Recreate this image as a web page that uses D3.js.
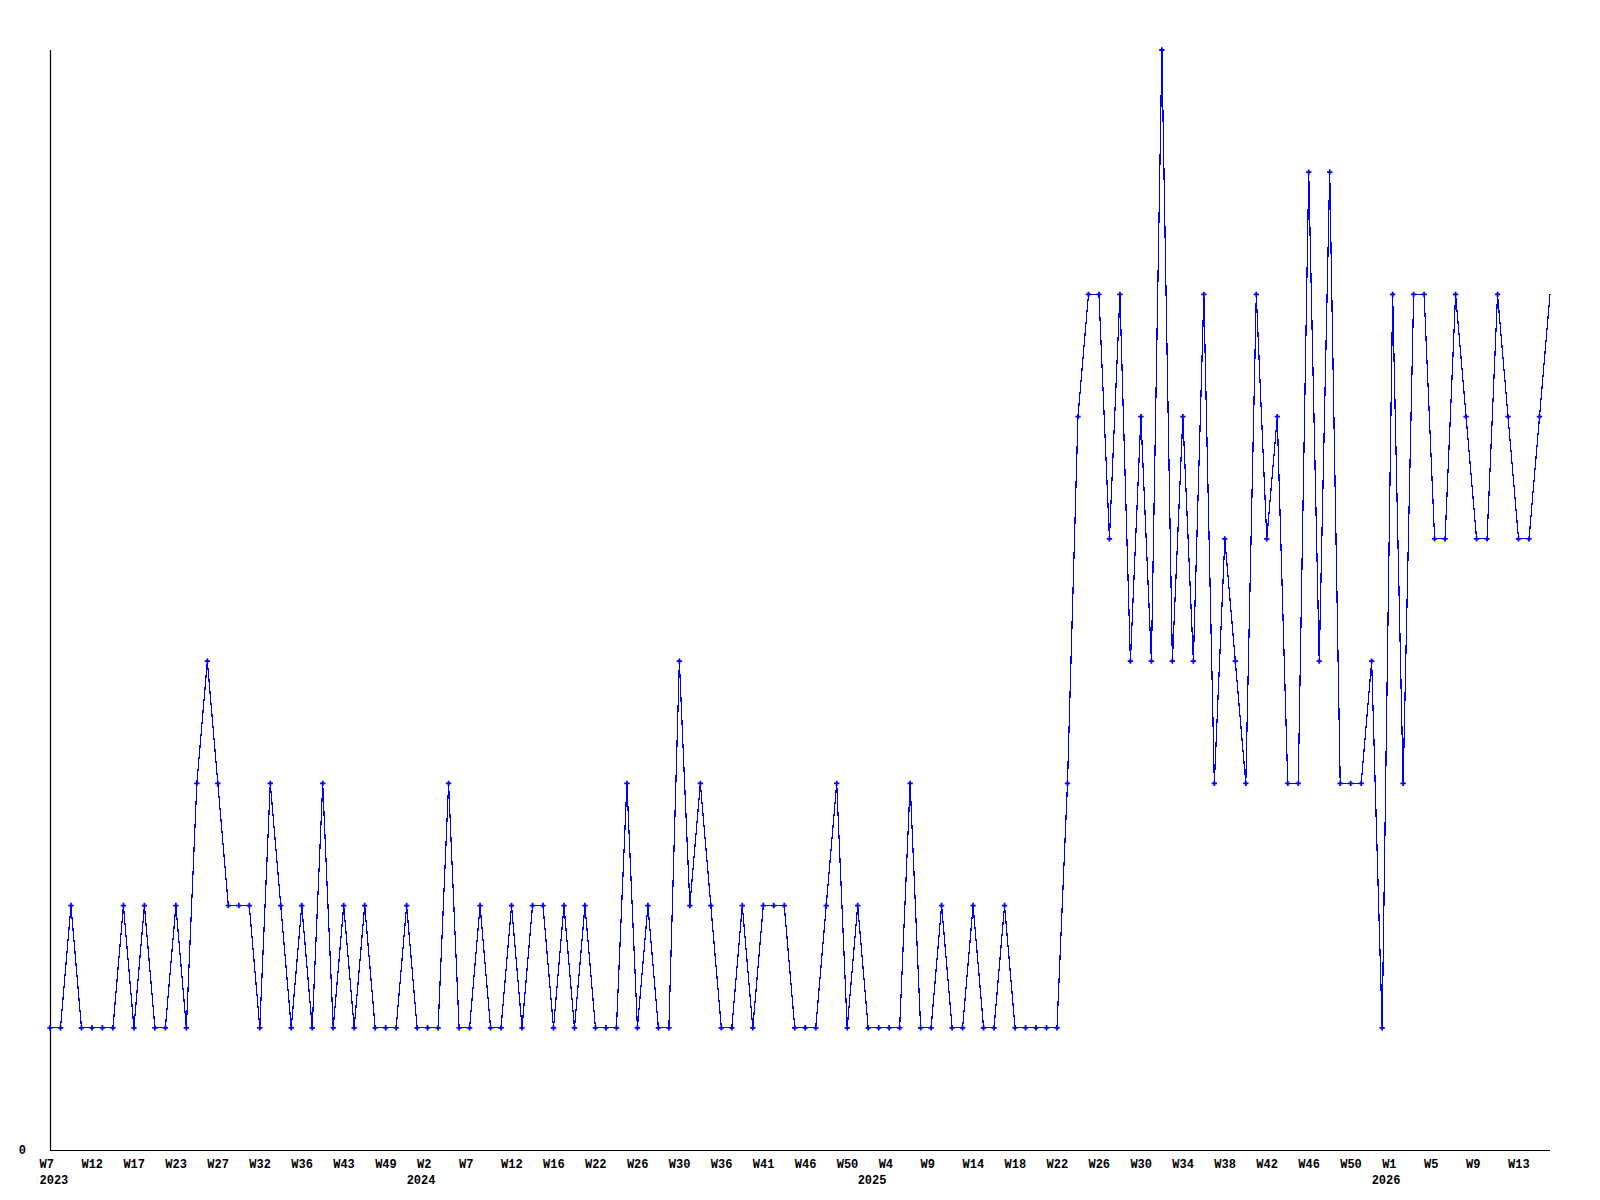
<!DOCTYPE html>
<html>
<head>
<meta charset="utf-8">
<script src="https://cdn.jsdelivr.net/npm/d3@7"></script>
<style>
  body { margin: 0; background: #fff; }
  .lbl { font-family: "Liberation Mono", "DejaVu Sans Mono", monospace; font-size: 12px; font-weight: bold; fill: #000; }
</style>
</head>
<body>
<div id="chart"></div>
<script>
// values per point (one point each ~week)
var values = [
  1,1,2,1,1,1,1,2,1,2,1,1,2,1,3,4,3,2,2,2,1,3,2,1,2,1,3,1,2,1,2,1,1,1,
  2,1,1,1,3,1,1,2,1,1,2,1,2,2,1,2,1,2,1,1,1,3,1,2,1,1,4,2,3,2,1,1,2,
  1,2,2,2,1,1,1,2,3,1,2,1,1,1,1,3,1,1,2,1,1,2,1,1,2,1,1,1,1,1,3,
  6,7,7,5,7,4,6,4,9,4,6,4,7,3,5,4,3,7,5,6,3,
  3,8,4,8,3,3,3,4,1,7,3,7,7,5,5,7,6,5,5,7,6,5,5,6,7
];

// week labels, one for every 4th point
var tickLabels = ["W7","W12","W17","W23","W27","W32","W36","W43","W49","W2","W7","W12",
  "W16","W22","W26","W30","W36","W41","W46","W50","W4","W9","W14","W18","W22",
  "W26","W30","W34","W38","W42","W46","W50","W1","W5","W9","W13"];
var tickEvery = 4;

// year labels and the point they start at
var years = ["2023","2024","2025","2026"];
var yearPoint = [0, 35, 78, 127];

var yMax = 9;

var margin = {top: 50, right: 50, bottom: 50, left: 50};
var width = 1600 - margin.left - margin.right;
var height = 1200 - margin.top - margin.bottom;

var svg = d3.select("#chart").append("svg")
    .attr("width", 1600)
    .attr("height", 1200)
    .append("g")
    .attr("transform", "translate(" + margin.left + "," + margin.top + ")");

var xScale = d3.scaleLinear()
    .domain([0, values.length - 1])
    .range([0, width]);

var yScale = d3.scaleLinear()
    .domain([0, yMax])
    .range([height, 0]);

// axes lines
svg.append("line")
    .attr("x1", 0.5).attr("x2", 0.5)
    .attr("y1", 0).attr("y2", height)
    .attr("stroke", "#000")
    .attr("stroke-width", 1.2);
svg.append("line")
    .attr("x1", 0).attr("x2", width)
    .attr("y1", height + 0.5).attr("y2", height + 0.5)
    .attr("stroke", "#000")
    .attr("stroke-width", 1.2);

// y label (only 0)
svg.append("text")
    .attr("class", "lbl")
    .attr("x", -24)
    .attr("y", yScale(0) + 4)
    .attr("text-anchor", "end")
    .text("0");

// week labels
svg.selectAll(".wk")
    .data(tickLabels)
    .enter()
    .append("text")
    .attr("class", "lbl wk")
    .attr("x", function(d, i) { return xScale(i * tickEvery) - 10.5; })
    .attr("y", height + 17.5)
    .text(function(d) { return d; });

// year labels
svg.selectAll(".yr")
    .data(years)
    .enter()
    .append("text")
    .attr("class", "lbl yr")
    .attr("x", function(d, i) { return xScale(yearPoint[i]) - 10.5; })
    .attr("y", height + 33.5)
    .text(function(d) { return d; });

// line
var line = d3.line()
    .x(function(d, i) { return xScale(i); })
    .y(function(d) { return yScale(d); });

svg.append("path")
    .datum(values)
    .attr("d", line)
    .attr("fill", "none")
    .attr("stroke", "#0000ff")
    .attr("stroke-width", 1.2)
    .style("shape-rendering", "crispEdges");

// cross markers (last point is drawn without a marker)
var cross = d3.symbol().type(d3.symbolCross).size(16);
svg.selectAll(".pt")
    .data(values.slice(0, values.length - 1))
    .enter()
    .append("path")
    .attr("class", "pt")
    .attr("d", cross)
    .attr("transform", function(d, i) { return "translate(" + xScale(i) + "," + yScale(d) + ")"; })
    .attr("fill", "#0000ff");
</script>
</body>
</html>
